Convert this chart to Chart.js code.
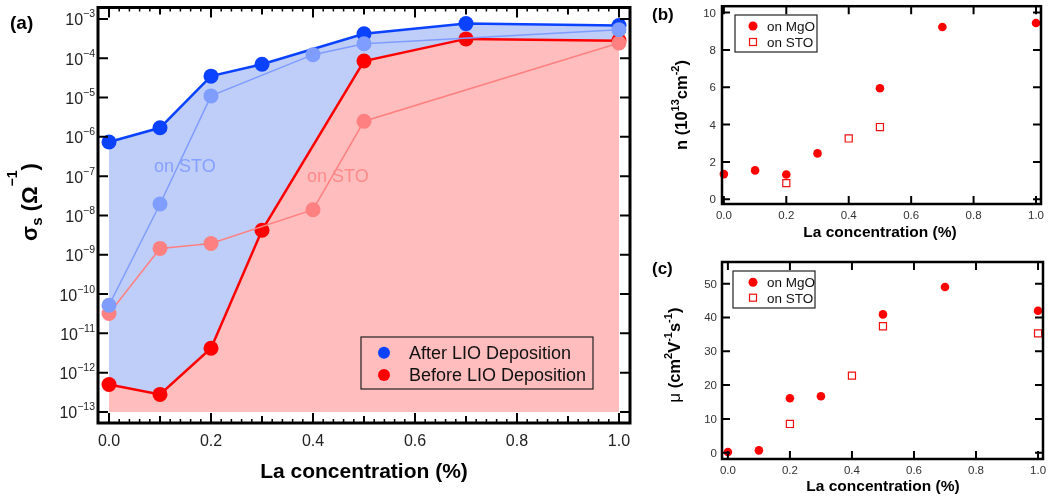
<!DOCTYPE html>
<html>
<head>
<meta charset="utf-8">
<script src="https://cdn.jsdelivr.net/npm/chart.js@4.4.0/dist/chart.umd.min.js"></script>
<style>
  body { margin: 0; background: #fff; width: 1051px; height: 498px; position: relative; overflow: hidden; }
  canvas { position: absolute; }
</style>
</head>
<body>
<canvas id="chartA" width="645" height="498" style="left:0;top:0"></canvas>
<canvas id="chartB" width="411" height="250" style="left:640px;top:0"></canvas>
<canvas id="chartC" width="411" height="248" style="left:640px;top:250px"></canvas>
<script>
// ---- panel (a): sheet conductance vs La concentration ----
const concAfterMgO = [0, 0.1, 0.2, 0.3, 0.5, 0.7, 1.0];
const sigmaAfterMgO = [7.4e-7, 1.7e-6, 3.5e-5, 7.0e-5, 4.2e-4, 7.6e-4, 6.8e-4];
const concAfterSTO = [0, 0.1, 0.2, 0.4, 0.5, 1.0];
const sigmaAfterSTO = [5.2e-11, 1.95e-8, 1.1e-5, 1.23e-4, 2.34e-4, 5.3e-4];
const concBeforeMgO = [0, 0.1, 0.2, 0.3, 0.5, 0.7, 1.0];
const sigmaBeforeMgO = [5.0e-13, 2.8e-13, 4.2e-12, 4.2e-9, 8.5e-5, 3.1e-4, 2.8e-4];
const concBeforeSTO = [0, 0.1, 0.2, 0.4, 0.5, 1.0];
const sigmaBeforeSTO = [3.2e-11, 1.45e-9, 1.94e-9, 1.4e-8, 2.5e-6, 2.43e-4];

// ---- panel (b): carrier density ----
const concN_MgO = [0, 0.1, 0.2, 0.3, 0.5, 0.7, 1.0];
const nMgO = [1.35, 1.55, 1.33, 2.46, 5.95, 9.23, 9.44];
const concN_STO = [0.2, 0.4, 0.5];
const nSTO = [0.87, 3.26, 3.87];

// ---- panel (c): mobility ----
const concMu_MgO = [0, 0.1, 0.2, 0.3, 0.5, 0.7, 1.0];
const muMgO = [0.2, 0.7, 16.1, 16.7, 40.9, 49.0, 42.0];
const concMu_STO = [0.2, 0.4, 0.5, 1.0];
const muSTO = [8.5, 22.8, 37.4, 35.3];

// tick labels
const xTicks = [0, 0.2, 0.4, 0.6, 0.8, 1.0];
const xTickLabels = ['0.0', '0.2', '0.4', '0.6', '0.8', '1.0'];
const yExpA = [-3, -4, -5, -6, -7, -8, -9, -10, -11, -12, -13];
const yTicksB = [0, 2, 4, 6, 8, 10];
const yTicksC = [0, 10, 20, 30, 40, 50];

const FONT = "'Liberation Sans', Arial, Helvetica, sans-serif";
const BLUE = '#0a42ff', LBLUE = '#7f9cff', BLUE_FILL = '#bfcdf9';
const RED = '#ff0000', LRED = '#ff8080', RED_FILL = '#ffbdbd';
const PRED = '#f01010';

function pts(xs, ys) { return xs.map((x, i) => ({ x: x, y: ys[i] })); }

// draws text made of pieces (for super/subscripts); y is the baseline
function rich(ctx, parts, x, y, align, rot) {
  ctx.save();
  ctx.translate(x, y);
  if (rot) ctx.rotate(rot);
  let w = 0;
  parts.forEach(p => { ctx.font = p.f; p.w = ctx.measureText(p.t).width; w += p.w; });
  let cx = align === 'right' ? -w : (align === 'center' ? -w / 2 : 0);
  ctx.textAlign = 'left';
  ctx.textBaseline = 'alphabetic';
  parts.forEach(p => {
    ctx.font = p.f;
    ctx.fillStyle = p.c || '#000';
    ctx.fillText(p.t, cx, p.dy || 0);
    cx += p.w;
  });
  ctx.restore();
}

function drawTicks(chart, o) {
  const { ctx, chartArea: a, scales } = chart;
  ctx.save();
  ctx.strokeStyle = '#000';
  o.x.forEach(t => {
    ctx.lineWidth = t.w;
    t.v.forEach(v => {
      const px = scales.x.getPixelForValue(v);
      ctx.beginPath();
      ctx.moveTo(px, a.bottom); ctx.lineTo(px, a.bottom - t.len);
      ctx.moveTo(px, a.top); ctx.lineTo(px, a.top + t.len);
      ctx.stroke();
    });
  });
  o.y.forEach(t => {
    ctx.lineWidth = t.w;
    t.v.forEach(v => {
      const py = scales.y.getPixelForValue(v);
      ctx.beginPath();
      ctx.moveTo(a.left, py); ctx.lineTo(a.left + t.len, py);
      ctx.moveTo(a.right, py); ctx.lineTo(a.right - t.len, py);
      ctx.stroke();
    });
  });
  ctx.lineWidth = o.frame;
  ctx.strokeRect(a.left, a.top, a.right - a.left, a.bottom - a.top);
  ctx.restore();
}

function legendBox(ctx, box, items, font, mx, tx) {
  ctx.save();
  ctx.strokeStyle = '#222';
  ctx.lineWidth = 1.2;
  ctx.strokeRect(box[0], box[1], box[2], box[3]);
  items.forEach(it => {
    if (it.shape === 'circle') {
      ctx.fillStyle = it.color;
      ctx.beginPath(); ctx.arc(mx, it.my, it.r, 0, Math.PI * 2); ctx.fill();
    } else {
      ctx.strokeStyle = it.color; ctx.lineWidth = 1.2;
      ctx.strokeRect(mx - it.r, it.my - it.r, it.r * 2, it.r * 2);
    }
    ctx.fillStyle = '#111';
    ctx.font = font;
    ctx.textAlign = 'left';
    ctx.fillText(it.label, tx, it.ty);
  });
  ctx.restore();
}

const baseOpts = {
  responsive: false,
  animation: false,
  events: [],
  plugins: { legend: { display: false }, tooltip: { enabled: false }, filler: { drawTime: 'beforeDatasetsDraw' } }
};

// minor tick positions for panel (a)
const xMinorA = [], xMidA = [0.1, 0.3, 0.5, 0.7, 0.9];
for (let i = 0; i <= 50; i++) xMinorA.push(i * 0.02);

new Chart(document.getElementById('chartA'), {
  type: 'line',
  data: {
    datasets: [
      { data: pts(concAfterSTO, sigmaAfterSTO), borderColor: LBLUE, backgroundColor: LBLUE, borderWidth: 1.5, pointRadius: 7.5, pointBorderWidth: 0, fill: false },
      { data: pts(concBeforeSTO, sigmaBeforeSTO), borderColor: LRED, backgroundColor: LRED, borderWidth: 1.5, pointRadius: 7.5, pointBorderWidth: 0, fill: false },
      { data: pts(concBeforeMgO, sigmaBeforeMgO), borderColor: RED, pointBackgroundColor: RED, backgroundColor: RED_FILL, borderWidth: 2.5, pointRadius: 7.5, pointBorderWidth: 0, fill: { value: 1e-13 } },
      { data: pts(concAfterMgO, sigmaAfterMgO), borderColor: BLUE, pointBackgroundColor: BLUE, backgroundColor: BLUE_FILL, borderWidth: 2.5, pointRadius: 7.5, pointBorderWidth: 0, fill: { value: 1e-13 } }
    ]
  },
  options: Object.assign({}, baseOpts, {
    layout: { padding: { left: 98, top: 7, right: 15, bottom: 75 } },
    elements: { line: { tension: 0 } },
    clip: false,
    scales: {
      x: { type: 'linear', min: -0.0216, max: 1.0216, display: false },
      y: { type: 'logarithmic', min: Math.pow(10, -13.28), max: Math.pow(10, -2.71), display: false }
    }
  }),
  plugins: [{
    id: 'panelA',
    afterDraw(chart) {
      const { ctx, scales } = chart;
      drawTicks(chart, {
        frame: 3,
        x: [{ v: xMinorA, len: 4, w: 1.5 }, { v: xMidA, len: 7, w: 2 }, { v: xTicks, len: 10, w: 2 }],
        y: [{ v: yExpA.map(e => Math.pow(10, e)), len: 10, w: 2 }]
      });
      yExpA.forEach(e => {
        const py = scales.y.getPixelForValue(Math.pow(10, e));
        rich(ctx, [{ t: '10', f: '16px ' + FONT, c: '#222' }, { t: '\u2212' + (-e), f: '10.5px ' + FONT, dy: -8, c: '#222' }], 95, py + 6.5, 'right');
      });
      xTicks.forEach((v, i) => {
        rich(ctx, [{ t: xTickLabels[i], f: '16px ' + FONT, c: '#222' }], scales.x.getPixelForValue(v), 446, 'center');
      });
      rich(ctx, [{ t: 'La concentration (%)', f: 'bold 21px ' + FONT }], 364, 478, 'center');
      rich(ctx, [
        { t: '\u03c3', f: 'bold 22px ' + FONT },
        { t: 's', f: 'bold 15px ' + FONT, dy: 5 },
        { t: ' (\u03a9', f: 'bold 22px ' + FONT },
        { t: '\u22121', f: 'bold 14px ' + FONT, dy: -20 },
        { t: ')', f: 'bold 22px ' + FONT }
      ], 37, 202, 'center', -Math.PI / 2);
      rich(ctx, [{ t: '(a)', f: 'bold 19px ' + FONT }], 10, 29, 'left');
      rich(ctx, [{ t: 'on STO', f: '18px ' + FONT, c: '#86a0ff' }], 154, 171.5, 'left');
      rich(ctx, [{ t: 'on STO', f: '18px ' + FONT, c: '#ff8a8a' }], 307, 181.5, 'left');
      legendBox(ctx, [361, 337, 232, 52], [
        { shape: 'circle', color: BLUE, r: 6, my: 352.7, label: 'After LIO Deposition', ty: 358.5 },
        { shape: 'circle', color: RED, r: 6, my: 375, label: 'Before LIO Deposition', ty: 380.5 }
      ], '18px ' + FONT, 384, 409);
    }
  }]
});

function scatterPanel(id, cfg) {
  new Chart(document.getElementById(id), {
    type: 'scatter',
    data: {
      datasets: [
        { data: cfg.sto, pointStyle: 'rect', pointRadius: 5, borderColor: PRED, backgroundColor: 'rgba(0,0,0,0)', pointBorderWidth: 1.2 },
        { data: cfg.mgo, pointStyle: 'circle', pointRadius: 4.3, backgroundColor: RED, borderColor: RED, pointBorderWidth: 0 }
      ]
    },
    options: Object.assign({}, baseOpts, {
      layout: { padding: cfg.pad },
      clip: false,
      scales: {
        x: { type: 'linear', min: cfg.xr[0], max: cfg.xr[1], display: false },
        y: { type: 'linear', min: cfg.yr[0], max: cfg.yr[1], display: false }
      }
    }),
    plugins: [{
      id: id + 'Deco',
      afterDraw(chart) {
        const { ctx, scales } = chart;
        drawTicks(chart, { frame: 2.5, x: [{ v: xTicks, len: 8, w: 2 }], y: [{ v: cfg.yt, len: 8, w: 2 }] });
        cfg.yt.forEach(v => {
          rich(ctx, [{ t: String(v), f: '11.5px ' + FONT, c: '#333' }], cfg.ylx, scales.y.getPixelForValue(v) + 4, 'right');
        });
        xTicks.forEach((v, i) => {
          rich(ctx, [{ t: xTickLabels[i], f: '11.5px ' + FONT, c: '#333' }], scales.x.getPixelForValue(v), cfg.xly, 'center');
        });
        rich(ctx, [{ t: 'La concentration (%)', f: 'bold 15.5px ' + FONT }], cfg.xtx, cfg.xty, 'center');
        rich(ctx, cfg.ytitle, cfg.ytx, cfg.yty, 'center', -Math.PI / 2);
        rich(ctx, [{ t: cfg.letter, f: 'bold 17px ' + FONT }], 12, cfg.letterY, 'left');
        legendBox(ctx, cfg.lbox, [
          { shape: 'circle', color: RED, r: 4.5, my: cfg.lmy[0], label: 'on MgO', ty: cfg.lty[0] },
          { shape: 'rect', color: PRED, r: 3.5, my: cfg.lmy[1], label: 'on STO', ty: cfg.lty[1] }
        ], '13.5px ' + FONT, 113, 127);
      }
    }]
  });
}

const B = 'bold 16.5px ' + FONT, BS = 'bold 11px ' + FONT;

scatterPanel('chartB', {
  mgo: pts(concN_MgO, nMgO), sto: pts(concN_STO, nSTO),
  pad: { left: 82, top: 6, right: 10, bottom: 46 },
  xr: [-0.006, 1.016], yr: [-0.25, 10.34], yt: yTicksB,
  ylx: 76, xly: 219, xtx: 240, xty: 237,
  ytitle: [{ t: 'n (10', f: B }, { t: '13', f: BS, dy: -8 }, { t: 'cm', f: B }, { t: '-2', f: BS, dy: -8 }, { t: ')', f: B }],
  ytx: 47, yty: 105,
  letter: '(b)', letterY: 20,
  lbox: [95, 15, 82, 37], lmy: [26, 42], lty: [30.5, 46.5]
});

scatterPanel('chartC', {
  mgo: pts(concMu_MgO, muMgO), sto: pts(concMu_STO, muSTO),
  pad: { left: 82, top: 12, right: 8, bottom: 39 },
  xr: [-0.019, 1.016], yr: [-1.86, 56.4], yt: yTicksC,
  ylx: 77, xly: 224, xtx: 243, xty: 241,
  ytitle: [{ t: '\u03bc', f: '16.5px ' + FONT }, { t: ' (cm', f: B }, { t: '2', f: BS, dy: -8 }, { t: 'V', f: B }, { t: '-1', f: BS, dy: -8 }, { t: 's', f: B }, { t: '-1', f: BS, dy: -8 }, { t: ')', f: B }],
  ytx: 40, yty: 105,
  letter: '(c)', letterY: 24,
  lbox: [93, 21, 82, 37], lmy: [32.3, 47.7], lty: [37, 52.5]
});
</script>
</body>
</html>
